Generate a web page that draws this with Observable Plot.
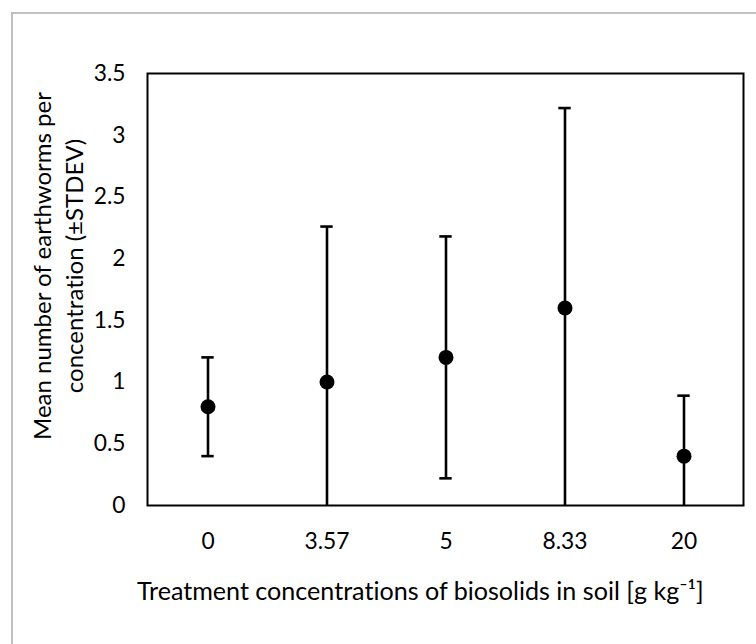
<!DOCTYPE html>
<html>
<head>
<meta charset="utf-8">
<script src="https://cdn.jsdelivr.net/npm/d3@7"></script>
<script src="https://cdn.jsdelivr.net/npm/@observablehq/plot@0.6"></script>
<style>
  html, body { margin: 0; padding: 0; background: #fff; }
  #wrap { position: relative; width: 756px; height: 644px; overflow: hidden; }
  #border { position: absolute; left: 11px; top: 12px; width: 800px; height: 700px;
            border-top: 2px solid #c0c0c0; border-left: 2px solid #c0c0c0; box-sizing: border-box; }
  #chart { position: absolute; left: 0; top: 0; }
  svg text { font-variant-ligatures: none; font-feature-settings: "liga" 0, "clig" 0; }
</style>
</head>
<body>
<div id="wrap"><div id="border"></div><div id="chart"></div></div>
<script>
const categories = ["0", "3.57", "5", "8.33", "20"];
const means = [0.8, 1.0, 1.2, 1.6, 0.4];
const stdevs = [0.4, 1.26, 0.98, 1.62, 0.49];
const yTicks = [0, 0.5, 1, 1.5, 2, 2.5, 3, 3.5];
const xTitle = "Treatment concentrations of biosolids in soil [g kg\u207B\u00B9]";
const yTitleLines = ["Mean number of earthworms per", "concentration (\u00B1STDEV)"];

const data = categories.map((c, i) => ({
  cat: c, mean: means[i], lo: means[i] - stdevs[i], hi: means[i] + stdevs[i]
}));

const font = "Lato";
const fontStack = "Lato, 'Open Sans', sans-serif";

// size fonts so that the substitute font spans the same width as the reference text
const ctx = document.createElement("canvas").getContext("2d");
function sizeFor(str, targetWidth) {
  ctx.font = `100px ${font}`;
  const w = ctx.measureText(str).width;
  return Math.round(100 * targetWidth / w * 10) / 10;
}
const tickSize = Math.min(26, sizeFor("3.57", 45));
const xTitleSize = Math.min(28, sizeFor("Treatment concentrations ", 289));
const yTitleSize = Math.min(28, sizeFor("concentration (\u00B1STDEV)", 255));

const plot = Plot.plot({
  width: 756,
  height: 644,
  marginLeft: 147,
  marginRight: 13,
  marginTop: 73,
  marginBottom: 139,
  style: { fontFamily: fontStack, fontSize: tickSize + "px", color: "#000", background: "transparent", overflow: "visible" },
  x: { type: "band", domain: categories, padding: 0 },
  y: { domain: [0, 3.5] },
  marks: [
    Plot.axisY({ ticks: yTicks, tickSize: 0, tickPadding: 22, tickFormat: d => String(d), label: null }),
    Plot.axisX({ tickSize: 0, tickPadding: 27, label: null }),
    Plot.ruleX(data, { x: "cat", y1: "lo", y2: "hi", stroke: "#000", strokeWidth: 2.6, clip: true }),
    Plot.tickY(data, { x: "cat", y: "hi", stroke: "#000", strokeWidth: 2.6, inset: 53.3, clip: true }),
    Plot.tickY(data, { x: "cat", y: "lo", stroke: "#000", strokeWidth: 2.6, inset: 53.3, clip: true }),
    Plot.dot(data, { x: "cat", y: "mean", r: 7.5, fill: "#000", stroke: "none" }),
    Plot.frame({ stroke: "#000", strokeWidth: 2 })
  ]
});

document.getElementById("chart").appendChild(plot);

const svg = d3.select(plot);
svg.append("text")
  .attr("x", 137).attr("y", 600)
  .attr("text-anchor", "start")
  .style("font-family", fontStack).style("font-size", xTitleSize + "px").attr("fill", "#000")
  .text(xTitle);

const yl = svg.append("g").attr("transform", "translate(0,266)");
[43, 75].forEach((cx, i) => {
  yl.append("text")
    .attr("transform", `translate(${cx},0) rotate(-90)`)
    .attr("text-anchor", "middle")
    .attr("dy", "0.35em")
    .style("font-family", fontStack).style("font-size", yTitleSize + "px").attr("fill", "#000")
    .text(yTitleLines[i]);
});
</script>
</body>
</html>
